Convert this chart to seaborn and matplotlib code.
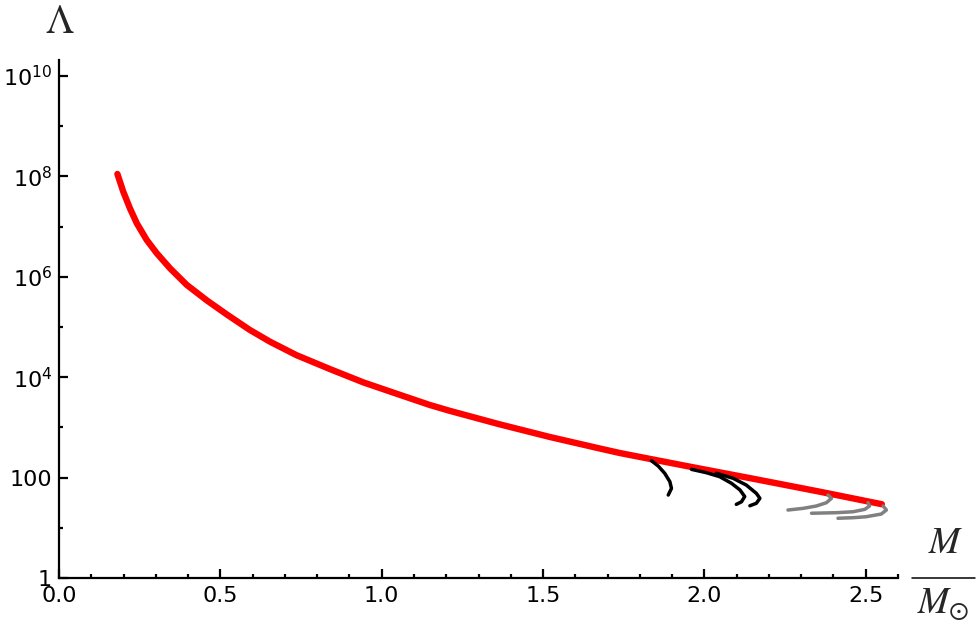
import numpy as np
import pandas as pd
import matplotlib
matplotlib.use("Agg")
import matplotlib.pyplot as plt
from matplotlib.lines import Line2D
from matplotlib.ticker import FixedLocator, FuncFormatter, NullFormatter
import seaborn as sns

# main red sequence  (M / M_sun, Lambda)
red_m   = [0.181, 0.199, 0.220, 0.241, 0.272, 0.303, 0.344, 0.396, 0.458, 0.520,
           0.592, 0.654, 0.736, 0.840, 0.943, 1.050, 1.149, 1.211, 1.366, 1.521,
           1.676, 1.738, 1.945, 2.151, 2.357, 2.550]
red_lam = [1.12e8, 5.0e7, 2.3e7, 1.17e7, 5.4e6, 2.95e6, 1.48e6, 6.9e5, 3.4e5, 1.78e5,
           8.7e4, 5.1e4, 2.75e4, 1.45e4, 7.9e3, 4.6e3, 2.8e3, 2.14e3, 1.15e3, 645,
           380, 309, 170, 95, 52.5, 29.5]

# black branches
blk1_m   = [1.836, 1.857, 1.877, 1.893, 1.898, 1.888]
blk1_lam = [217, 170, 122, 83, 61, 45]
blk2_m   = [1.960, 2.007, 2.048, 2.084, 2.110, 2.125, 2.115, 2.099]
blk2_lam = [146, 125, 104, 77, 57, 42, 33, 29.3]
blk3_m   = [2.037, 2.089, 2.130, 2.161, 2.172, 2.161, 2.141]
blk3_lam = [122, 97, 71, 48.6, 38.7, 30.8, 27.5]

# gray branches
gry1_m   = [2.383, 2.394, 2.378, 2.347, 2.306, 2.259]
gry1_lam = [45, 38.7, 31.6, 27.2, 24.4, 22.6]
gry2_m   = [2.507, 2.512, 2.497, 2.461, 2.409, 2.332]
gry2_lam = [31.6, 27.2, 23.3, 20.9, 20.0, 19.5]
gry3_m   = [2.554, 2.564, 2.548, 2.501, 2.461, 2.414]
gry3_lam = [27.2, 22.6, 18.8, 16.6, 15.9, 15.5]

x_major = [0.0, 0.5, 1.0, 1.5, 2.0, 2.5]
x_minor = [round(0.1 * i, 1) for i in range(27)]
y_major = [1e0, 1e2, 1e4, 1e6, 1e8, 1e10]
y_minor = [1e1, 1e3, 1e5, 1e7, 1e9]

sns.set_style("ticks")
plt.rcParams["font.family"] = ["DejaVu Sans"]

fig = plt.figure(figsize=(9.8, 6.3), dpi=100)
ax = fig.add_axes([59 / 980, 52 / 630, (898 - 59) / 980, (578 - 60) / 630])

sns.lineplot(x=red_m, y=red_lam, sort=False, estimator=None, color="#ff0000",
             linewidth=4.6, ax=ax, zorder=2)
for mm, ll in [(blk1_m, blk1_lam), (blk2_m, blk2_lam), (blk3_m, blk3_lam)]:
    sns.lineplot(x=mm, y=ll, sort=False, estimator=None, color="black",
                 linewidth=2.5, ax=ax, zorder=3)
for mm, ll in [(gry1_m, gry1_lam), (gry2_m, gry2_lam), (gry3_m, gry3_lam)]:
    sns.lineplot(x=mm, y=ll, sort=False, estimator=None, color="#808080",
                 linewidth=2.5, ax=ax, zorder=3)

ax.set_yscale("log")
ax.set_xlim(0, 2.6)
ax.set_ylim(1, 10 ** 10.32)

ax.xaxis.set_major_locator(FixedLocator(x_major))
ax.xaxis.set_minor_locator(FixedLocator(x_minor))
ax.xaxis.set_major_formatter(FuncFormatter(lambda v, p: f"{v:.1f}"))
ax.yaxis.set_major_locator(FixedLocator(y_major))
ax.yaxis.set_minor_locator(FixedLocator(y_minor))
ax.yaxis.set_minor_formatter(NullFormatter())


def ylab(v, p):
    e = int(round(np.log10(v)))
    if e <= 2:
        return f"{int(round(v))}"
    return rf"$10^{{{e}}}$"


ax.yaxis.set_major_formatter(FuncFormatter(ylab))

sns.despine(ax=ax)
for s in ["left", "bottom"]:
    ax.spines[s].set_linewidth(1.6)
    ax.spines[s].set_color("black")
ax.tick_params(which="major", direction="in", length=6.5, width=1.6,
               labelsize=16, colors="black")
ax.tick_params(which="minor", direction="in", length=3, width=1.6, colors="black")
ax.tick_params(axis="x", which="major", pad=6)
ax.tick_params(axis="y", which="major", pad=5)

ax.set_xlabel("")
ax.set_ylabel("")

# axis labels: Lambda on top, M / M_sun as a stacked fraction on the right
fig.text(60 / 980, 1 - 22 / 630, r"$\Lambda$", fontsize=29, math_fontfamily="stix",
         ha="center", va="center")
fig.text(946 / 980, 1 - 553 / 630, r"$M$", fontsize=27, math_fontfamily="stix",
         ha="center", va="baseline")
fig.text(943 / 980, 1 - 613 / 630, r"$M_{\odot}$", fontsize=27, math_fontfamily="stix",
         ha="center", va="baseline")
fig.add_artist(Line2D([912 / 980, 975 / 980], [1 - 578 / 630, 1 - 578 / 630],
                      color="black", linewidth=1.1, transform=fig.transFigure))

fig.savefig("out.png", dpi=100)
